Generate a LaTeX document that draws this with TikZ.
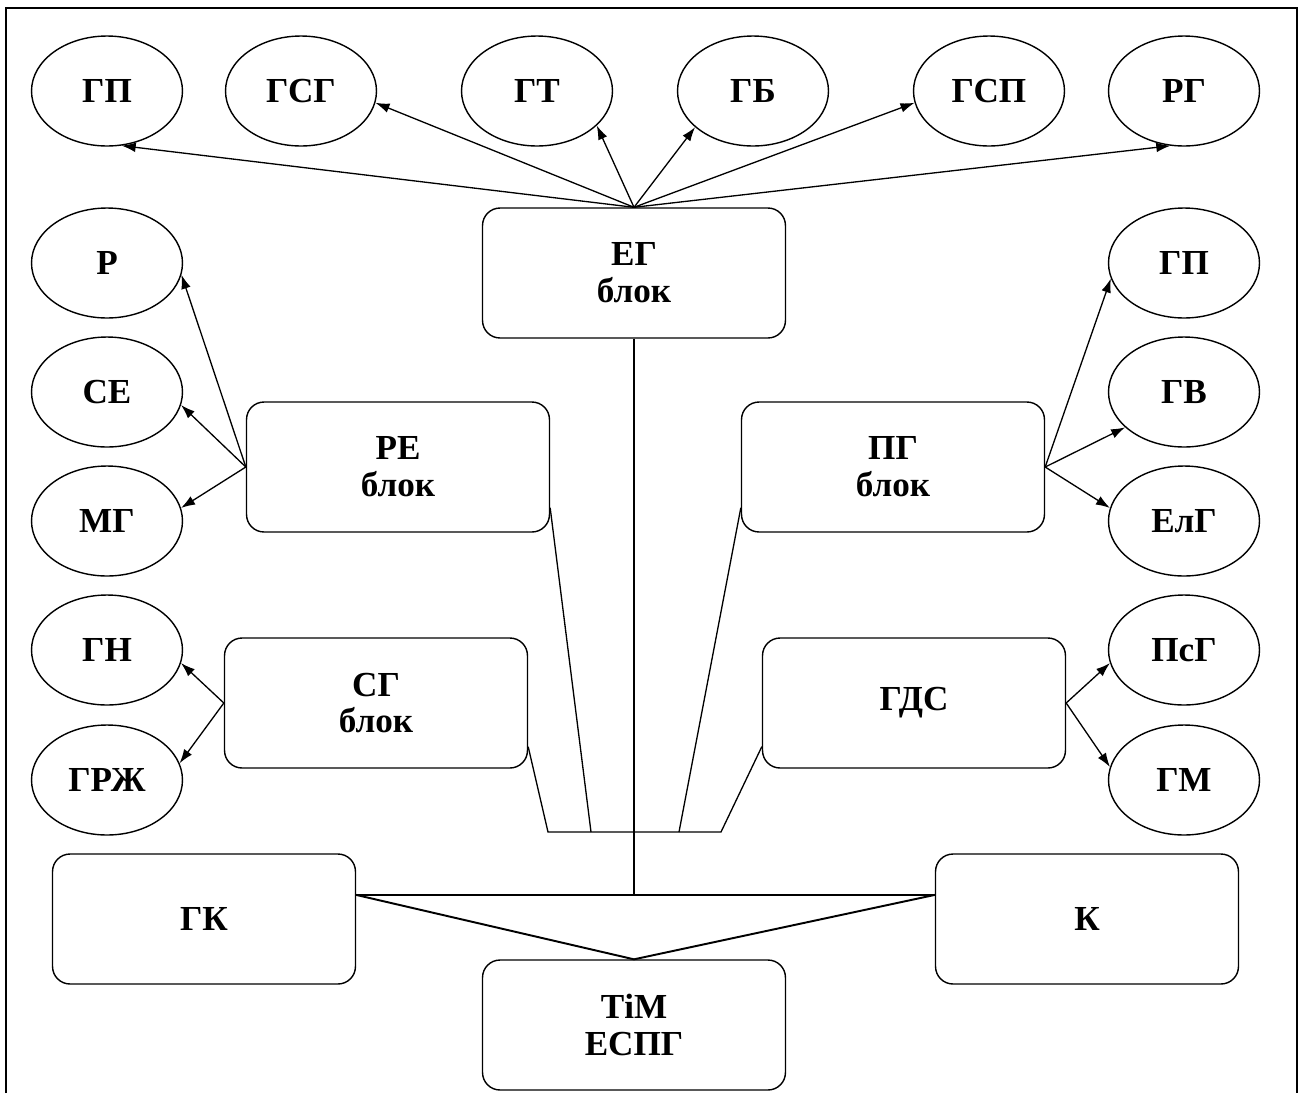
\documentclass[tikz,border=0pt]{standalone}
\usepackage{fontspec}
\setmainfont{Liberation Serif}
\usetikzlibrary{shapes.geometric,arrows.meta}

\begin{document}
\begin{tikzpicture}[x=0.02cm,y=-0.02cm,
        blk/.style={draw,line width=0.8pt,rounded corners=0.35cm,minimum width=6.06cm,minimum height=2.6cm,inner sep=0pt,align=center,font=\bfseries\fontsize{20}{21}\selectfont},
        ell/.style={draw,line width=0.8pt,ellipse,minimum width=3.02cm,minimum height=2.2cm,inner sep=0pt,font=\bfseries\fontsize{20}{21}\selectfont},
        arr/.style={-{Latex[length=8pt,width=5.5pt]},line width=0.75pt},
        ln/.style={line width=0.75pt}]
        \useasboundingbox (0,0) rectangle (1302,1093);
        \draw[line width=1.6pt] (6,1093) -- (6,8) -- (1297,8) -- (1297,1093);
        \node[blk] (eg) at (634,273) {ЕГ\\блок};
        \node[blk] (re) at (398,467) {РЕ\\блок};
        \node[blk] (pg) at (893,467) {ПГ\\блок};
        \node[blk] (sg) at (376,703) {СГ\\блок};
        \node[blk] (gds) at (914,703) {ГДС};
        \node[blk] (gk) at (204,919) {ГК};
        \node[blk] (k) at (1087,919) {К};
        \node[blk] (tim) at (634,1025) {ТіМ\\ЕСПГ};
        \node[ell] (gpa) at (107,91) {ГП};
        \node[ell] (gsg) at (301,91) {ГСГ};
        \node[ell] (gt) at (537,91) {ГТ};
        \node[ell] (gb) at (753,91) {ГБ};
        \node[ell] (gsp) at (989,91) {ГСП};
        \node[ell] (rg) at (1184,91) {РГ};
        \node[ell] (r) at (107,263) {Р};
        \node[ell] (se) at (107,392) {СЕ};
        \node[ell] (mg) at (107,521) {МГ};
        \node[ell] (gn) at (107,650) {ГН};
        \node[ell] (grzh) at (107,780) {ГРЖ};
        \node[ell] (gpb) at (1184,263) {ГП};
        \node[ell] (gv) at (1184,392) {ГВ};
        \node[ell] (elg) at (1184,521) {ЕлГ};
        \node[ell] (psg) at (1184,650) {ПсГ};
        \node[ell] (gm) at (1184,780) {ГМ};
        \draw[arr] (eg.north) -- (gpa.-75);
        \draw[arr] (eg.north) -- (gsg.-9);
        \draw[arr] (eg.north) -- (gt.-30);
        \draw[arr] (eg.north) -- (gb.-148);
        \draw[arr] (eg.north) -- (gsp.-171);
        \draw[arr] (eg.north) -- (rg.-104);
        \draw[arr] (re.west) -- (r.-9);
        \draw[arr] (re.west) -- (se.-10);
        \draw[arr] (re.west) -- (mg.10);
        \draw[arr] (pg.east) -- (gpb.-168);
        \draw[arr] (pg.east) -- (gv.-149);
        \draw[arr] (pg.east) -- (elg.170);
        \draw[arr] (sg.west) -- (gn.-10);
        \draw[arr] (sg.west) -- (grzh.13);
        \draw[arr] (gds.east) -- (psg.-170);
        \draw[arr] (gds.east) -- (gm.170);
        \coordinate (hub) at (634,895);
        \coordinate (busl) at (548,832);
        \coordinate (busr) at (721,832);
        \coordinate (busa) at (591,832);
        \coordinate (busb) at (679,832);
        \draw[ln] (eg.south) -- (hub);
        \draw[ln] (sg.-16) -- (busl) -- (busr) -- (gds.196);
        \draw[ln] (re.-15) -- (busa);
        \draw[ln] (pg.195) -- (busb);
        \draw[line width=1.1pt] (gk.9) -- (k.171);
        \draw[line width=1.1pt] (gk.9) -- (tim.north) -- (k.171);
    \end{tikzpicture}
\end{document}
